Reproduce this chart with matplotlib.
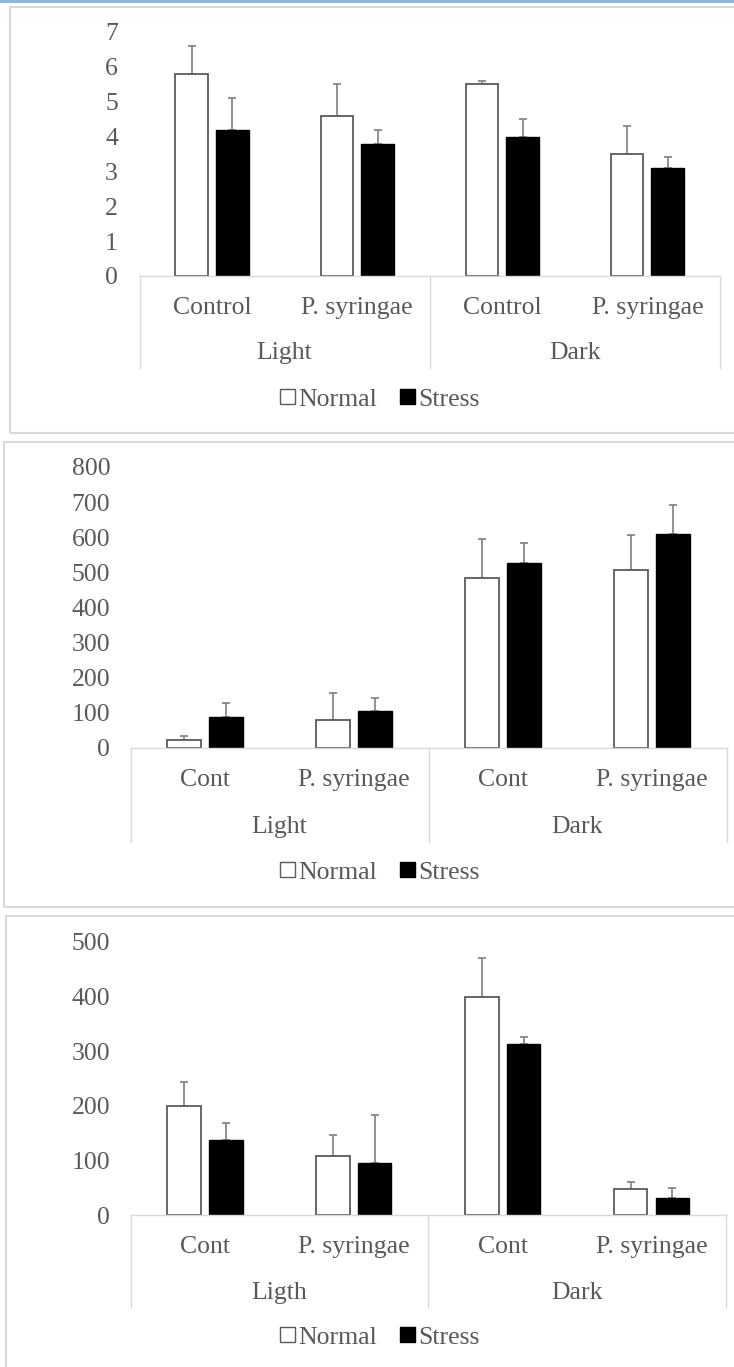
import matplotlib
matplotlib.use("Agg")
import matplotlib.pyplot as plt
from matplotlib.patches import Rectangle, Patch
from matplotlib.lines import Line2D
from matplotlib.transforms import blended_transform_factory
import numpy as np

# --- data ---
groups_1 = ["Light", "Dark"]
groups_3 = ["Ligth", "Dark"]
cats_1 = ["Control", "P. syringae", "Control", "P. syringae"]
cats_2 = ["Cont", "P. syringae", "Cont", "P. syringae"]

normal_1 = [5.8, 4.6, 5.5, 3.5]
normal_1_err = [0.8, 0.9, 0.1, 0.8]
stress_1 = [4.2, 3.8, 4.0, 3.1]
stress_1_err = [0.9, 0.4, 0.5, 0.3]

normal_2 = [23, 80, 484, 508]
normal_2_err = [12, 77, 111, 97]
stress_2 = [89, 106, 528, 608]
stress_2_err = [38, 35, 55, 85]

normal_3 = [200, 108, 400, 48]
normal_3_err = [44, 39, 71, 12]
stress_3 = [137, 95, 314, 31]
stress_3_err = [32, 88, 12, 18]

W, H = 734, 1367
TXT = "#595959"
GRID = "#D9D9D9"
plt.rcParams["font.family"] = ["Liberation Serif", "DejaVu Serif"]

fig = plt.figure(figsize=(W / 100, H / 100), dpi=100)


def fx(x):
    return x / W


def fy(y):
    return 1 - y / H


# blue strip at the top and the chart frames
fig.patches.append(Rectangle((0, fy(2.5)), 1, fy(0) - fy(2.5), transform=fig.transFigure,
                             facecolor="#8DB4E2", edgecolor="none"))
for left, top, bottom in [(10, 7, 433), (4, 442, 907), (6, 916, 1400)]:
    fig.patches.append(Rectangle((fx(left), fy(bottom)), fx(W + 20 - left), fy(top) - fy(bottom),
                                 transform=fig.transFigure, facecolor="none",
                                 edgecolor=GRID, lw=1.5))


def panel(box, ymax, step, normal, nerr, stress, serr, cats, groups,
          cat_y, grp_y, sep_end, leg_y, pad):
    left, right, top, bottom = box
    ax = fig.add_axes([fx(left), fy(bottom), fx(right - left), fy(top) - fy(bottom)])
    x = np.arange(len(cats))
    w, off = 0.225, 0.14
    zeros = np.zeros(len(cats))
    ax.errorbar(x - off, normal, yerr=[zeros, nerr], fmt="none", ecolor="#7F7F7F",
                elinewidth=1.2, capsize=3.2, capthick=1.2, zorder=1)
    ax.errorbar(x + off, stress, yerr=[zeros, serr], fmt="none", ecolor="#7F7F7F",
                elinewidth=1.2, capsize=3.2, capthick=1.2, zorder=1)
    ax.bar(x - off, normal, width=w, facecolor="white", edgecolor="#5A5A5A", lw=1.3, zorder=2)
    ax.bar(x + off, stress, width=w, facecolor="black", edgecolor="black", lw=1.0, zorder=2)

    ax.set_xlim(-0.5, len(cats) - 0.5)
    ax.set_ylim(0, ymax)
    ax.set_yticks(np.arange(0, ymax + step / 2, step))
    ax.set_xticks([])
    ax.tick_params(axis="y", length=0, pad=pad, labelsize=18.5, labelcolor=TXT)
    for s in ["left", "right", "top"]:
        ax.spines[s].set_visible(False)
    ax.spines["bottom"].set_color(GRID)
    ax.spines["bottom"].set_linewidth(1.0)
    ax.patch.set_visible(False)

    tr = blended_transform_factory(ax.transData, fig.transFigure)
    for xi, c in zip(x, cats):
        ax.text(xi, fy(cat_y), c, transform=tr, ha="center", va="center",
                fontsize=18.5, color=TXT)
    for gi, g in enumerate(groups):
        ax.text(gi * 2 + 0.5, fy(grp_y), g, transform=tr, ha="center", va="center",
                fontsize=18.5, color=TXT)
    for sx in [-0.5, 1.5, 3.5]:
        ax.add_line(Line2D([sx, sx], [fy(bottom), fy(sep_end)], transform=tr,
                           color=GRID, lw=1.0, clip_on=False))

    handles = [Patch(facecolor="white", edgecolor="#5A5A5A", lw=1.0),
               Patch(facecolor="black", edgecolor="black")]
    fig.legend(handles, ["Normal", "Stress"], loc="center", bbox_to_anchor=(fx(380), fy(leg_y)),
               ncol=2, frameon=False, fontsize=18.5, labelcolor=TXT, handlelength=0.56,
               handleheight=0.52, handletextpad=0.15, columnspacing=0.9, borderpad=0)
    return ax


panel((139.5, 720, 32, 276), 7, 1, normal_1, normal_1_err, stress_1, stress_1_err,
      cats_1, groups_1, 308, 353, 368, 400, 15.5)
panel((130.5, 726.5, 467, 748), 800, 100, normal_2, normal_2_err, stress_2, stress_2_err,
      cats_2, groups_1, 780, 827, 842, 873, 14.5)
panel((130.5, 726, 942, 1215), 500, 100, normal_3, normal_3_err, stress_3, stress_3_err,
      cats_2, groups_3, 1247, 1293, 1307, 1338, 14.5)

fig.savefig("out.png", dpi=100)
